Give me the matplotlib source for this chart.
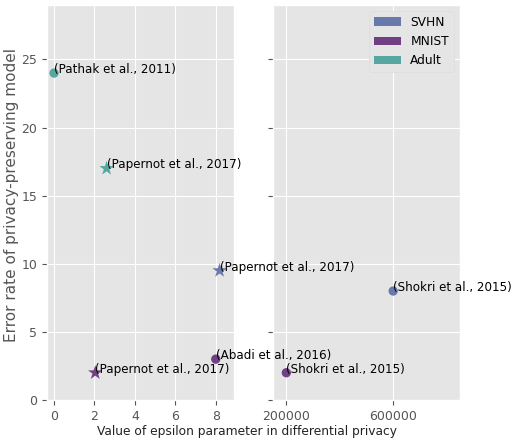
import matplotlib
matplotlib.use("Agg")
import matplotlib.pyplot as plt
from matplotlib.patches import Patch

plt.style.use("ggplot")

# published results: privacy budget vs. error rate
papers = ["(Pathak et al., 2011)", "(Papernot et al., 2017)", "(Papernot et al., 2017)",
          "(Papernot et al., 2017)", "(Abadi et al., 2016)", "(Shokri et al., 2015)",
          "(Shokri et al., 2015)"]
epsilon = [0, 2.6, 8.19, 2.04, 8, 200000, 600000]
error = [24, 17, 9.5, 2, 3, 2, 8]
dataset = ["Adult", "Adult", "SVHN", "MNIST", "MNIST", "MNIST", "SVHN"]
marker = ["o", "*", "*", "*", "o", "o", "o"]

datasets = ["SVHN", "MNIST", "Adult"]
colors = {"SVHN": "#5a6ea5", "MNIST": "#652d78", "Adult": "#45a198"}

fig = plt.figure(figsize=(5.16, 4.38), dpi=100)
ax1 = fig.add_axes([0.091, 0.0868, 0.3624, 0.9018])
ax2 = fig.add_axes([0.529, 0.0868, 0.3624, 0.9018], sharey=ax1)
ax1.set_zorder(2)  # labels from the small-epsilon panel spill over the right one

for name, x, y, d, m in zip(papers, epsilon, error, dataset, marker):
    ax = ax1 if x < 100 else ax2
    ax.scatter(x, y, marker=m, s=120 if m == "*" else 45, color=colors[d],
               alpha=0.9, edgecolors="none", zorder=3)
    ax.annotate(name, (x, y), fontsize=8.6, color="black", annotation_clip=False,
                zorder=4)

ax1.set_xlim(-0.35, 8.9)
ax1.set_ylim(0, 29)
ax1.set_xticks([0, 2, 4, 6, 8])
ax1.set_yticks([0, 5, 10, 15, 20, 25])
ax2.set_xlim(150000, 850000)
ax2.set_xticks([200000, 600000])
ax2.tick_params(labelleft=False)

for ax in (ax1, ax2):
    ax.tick_params(labelsize=9, colors="#555555")

ax1.set_ylabel("Error rate of privacy-preserving model", fontsize=11,
               color="#555555")
ax1.yaxis.set_label_coords(-0.15, 0.52)
fig.text(0.479, 0.014, "Value of epsilon parameter in differential privacy",
         ha="center", va="center", fontsize=8.8, color="#222222")

handles = [Patch(facecolor=colors[d], alpha=0.9, label=d) for d in datasets]
ax2.legend(handles=handles, loc="upper right", fontsize=8.8, facecolor="#E5E5E5",
           edgecolor="#dddddd", framealpha=1, handlelength=2.2)

fig.savefig("out.png", dpi=100)
